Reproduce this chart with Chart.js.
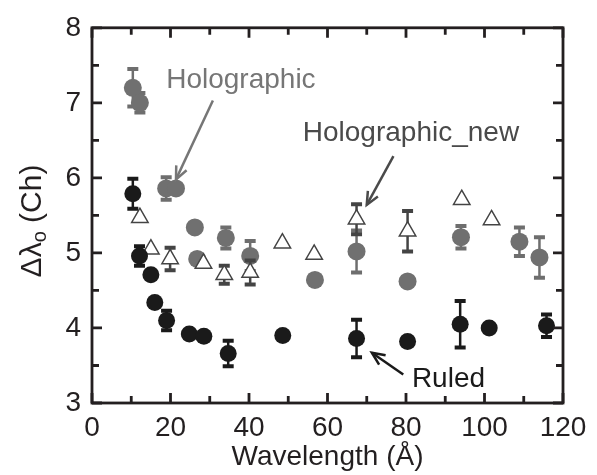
<!DOCTYPE html>
<html>
<head>
<meta charset="utf-8">
<script src="https://cdn.jsdelivr.net/npm/chart.js@4/dist/chart.umd.min.js"></script>
<style>
  html, body { margin: 0; padding: 0; background: #fff; }
</style>
</head>
<body>
<canvas id="chart" width="597" height="475"></canvas>
<script>
// Ruled grating (black dots)
const ruledX   = [10.4, 12.1, 15.0, 16.0, 19.0, 24.8, 28.5, 34.7, 48.6, 67.4, 80.4, 93.8, 101.2, 115.8];
const ruledY   = [5.79, 4.96, 4.71, 4.34, 4.10, 3.92, 3.89, 3.66, 3.90, 3.86, 3.82, 4.05, 4.00, 4.03];
const ruledErr = [0.20, 0.13, 0,    0,    0.13, 0,    0,    0.17, 0,    0.25, 0,    0.31, 0,    0.15];

// Holographic grating (grey dots)
const holoX   = [10.4, 12.2, 18.9, 21.4, 26.2, 26.8, 34.1, 40.3, 56.8, 67.4, 80.4, 94.0, 108.9, 114.0];
const holoY   = [7.20, 7.00, 5.86, 5.86, 5.34, 4.92, 5.20, 4.96, 4.64, 5.02, 4.62, 5.21, 5.15, 4.94];
const holoErr = [0.25, 0.13, 0.15, 0,    0,    0,    0.14, 0.20, 0,    0.28, 0,    0.15, 0.19, 0.27];

// Holographic_new (open triangles)
const newX   = [12.2, 15.0, 19.9, 28.4, 33.7, 40.3, 48.5, 56.6, 67.4, 80.4, 94.2, 101.8];
const newY   = [5.47, 5.05, 4.92, 4.86, 4.71, 4.74, 5.13, 4.98, 5.45, 5.29, 5.71, 5.44];
const newErr = [0,    0,    0.15, 0,    0.12, 0.16, 0,    0,    0.20, 0.27, 0,    0];

const xTicks = [0, 20, 40, 60, 80, 100, 120];
const yTicks = [3, 4, 5, 6, 7, 8];

const FONT = "'Liberation Sans', Arial, Helvetica, sans-serif";
const INK = '#231f20';

const pts = (xs, ys) => xs.map((x, i) => ({ x: x, y: ys[i] }));

// vertical error bars, drawn under each dataset's markers
const errorBars = {
  id: 'errorBars',
  beforeDatasetDraw(chart, args) {
    const ds = chart.data.datasets[args.index];
    if (!ds.errors) return;
    const ctx = chart.ctx, xs = chart.scales.x, ys = chart.scales.y;
    ctx.save();
    ctx.strokeStyle = ds.errorColor;
    ds.data.forEach(function(p, i) {
      const e = ds.errors[i];
      if (!e) return;
      const px = xs.getPixelForValue(p.x);
      const top = ys.getPixelForValue(p.y + e), bot = ys.getPixelForValue(p.y - e);
      ctx.lineWidth = 2.5;
      ctx.beginPath(); ctx.moveTo(px, top); ctx.lineTo(px, bot); ctx.stroke();
      ctx.lineWidth = 4;
      ctx.beginPath();
      ctx.moveTo(px - 5.5, top); ctx.lineTo(px + 5.5, top);
      ctx.moveTo(px - 5.5, bot); ctx.lineTo(px + 5.5, bot);
      ctx.stroke();
    });
    ctx.restore();
  }
};

// annotations in data units: text + arrow
const notes = [
  { text: 'Holographic',     x: 18.9, y: 7.30, color: '#767676', from: [30.8, 7.03], to: [21.4, 5.98] },
  { text: 'Holographic_new', x: 53.7, y: 6.59, color: '#4a4a4a', from: [76.8, 6.29], to: [70.0, 5.64] },
  { text: 'Ruled',           x: 81.5, y: 3.32, color: '#1a1a1a', from: [79.3, 3.38], to: [71.3, 3.67] }
];

const frame = {
  id: 'frame',
  afterDraw(chart) {
    const ctx = chart.ctx, xs = chart.scales.x, ys = chart.scales.y;
    const a = chart.chartArea;
    ctx.save();
    ctx.strokeStyle = INK;
    ctx.lineWidth = 2.8;
    ctx.strokeRect(a.left, a.top, a.right - a.left, a.bottom - a.top);
    // inward ticks on all sides
    for (let v = 0; v <= 120; v += 10) {
      const px = xs.getPixelForValue(v), len = v % 20 === 0 ? 10 : 7;
      ctx.beginPath();
      ctx.moveTo(px, a.bottom); ctx.lineTo(px, a.bottom - len);
      ctx.moveTo(px, a.top); ctx.lineTo(px, a.top + len);
      ctx.stroke();
    }
    for (let v = 3; v <= 8.001; v += 0.5) {
      const py = ys.getPixelForValue(v), len = Math.abs(v - Math.round(v)) < 0.01 ? 10 : 7;
      ctx.beginPath();
      ctx.moveTo(a.left, py); ctx.lineTo(a.left + len, py);
      ctx.moveTo(a.right, py); ctx.lineTo(a.right - len, py);
      ctx.stroke();
    }

    // y axis title with subscript
    ctx.fillStyle = INK;
    ctx.translate(30, 221);
    ctx.rotate(-Math.PI / 2);
    ctx.textBaseline = 'alphabetic';
    ctx.font = '30px ' + FONT;
    const w1 = ctx.measureText('\u0394\u03bb').width;
    const w3 = ctx.measureText(' (Ch)').width;
    ctx.font = '20px ' + FONT;
    const w2 = ctx.measureText('o').width;
    let sx = -(w1 + w2 + w3) / 2;
    ctx.font = '30px ' + FONT;
    ctx.fillText('\u0394\u03bb', sx, 11);
    ctx.font = '20px ' + FONT;
    ctx.fillText('o', sx + w1, 16);
    ctx.font = '30px ' + FONT;
    ctx.fillText(' (Ch)', sx + w1 + w2, 11);
    ctx.restore();

    // annotations
    ctx.save();
    notes.forEach(function(n) {
      ctx.font = '28px ' + FONT;
      ctx.fillStyle = n.color;
      ctx.textBaseline = 'middle';
      ctx.fillText(n.text, xs.getPixelForValue(n.x), ys.getPixelForValue(n.y));
      const x0 = xs.getPixelForValue(n.from[0]), y0 = ys.getPixelForValue(n.from[1]);
      const x1 = xs.getPixelForValue(n.to[0]), y1 = ys.getPixelForValue(n.to[1]);
      const ang = Math.atan2(y1 - y0, x1 - x0);
      ctx.strokeStyle = n.color;
      ctx.lineWidth = 2.5;
      ctx.lineCap = 'butt';
      ctx.beginPath(); ctx.moveTo(x0, y0); ctx.lineTo(x1, y1); ctx.stroke();
      ctx.beginPath();
      ctx.moveTo(x1 - 14 * Math.cos(ang - 0.42), y1 - 14 * Math.sin(ang - 0.42));
      ctx.lineTo(x1, y1);
      ctx.lineTo(x1 - 14 * Math.cos(ang + 0.42), y1 - 14 * Math.sin(ang + 0.42));
      ctx.stroke();
    });
    ctx.restore();
  }
};

new Chart(document.getElementById('chart').getContext('2d'), {
  type: 'scatter',
  data: {
    datasets: [
      { label: 'Ruled', data: pts(ruledX, ruledY), errors: ruledErr, errorColor: '#1a1a1a',
        pointStyle: 'circle', pointRadius: 8.5, backgroundColor: '#1a1a1a', borderColor: '#1a1a1a', borderWidth: 0 },
      { label: 'Holographic_new', data: pts(newX, newY), errors: newErr, errorColor: '#444',
        pointStyle: 'triangle', pointRadius: 9.5, backgroundColor: '#fff', borderColor: '#444', borderWidth: 1.5 },
      { label: 'Holographic', data: pts(holoX, holoY), errors: holoErr, errorColor: '#6e6e6e',
        pointStyle: 'circle', pointRadius: 9, backgroundColor: '#707070', borderColor: '#707070', borderWidth: 0 }
    ]
  },
  options: {
    responsive: false,
    devicePixelRatio: 1,
    animation: false,
    layout: { padding: { left: 0, right: 34, top: 26, bottom: 0 } },
    plugins: { legend: { display: false }, tooltip: { enabled: false } },
    scales: {
      x: {
        type: 'linear', min: 0, max: 120,
        afterFit: s => { s.height = 72; },
        afterBuildTicks: s => { s.ticks = xTicks.map(v => ({ value: v })); },
        grid: { display: false, drawTicks: false },
        border: { display: false },
        ticks: { color: INK, font: { family: FONT, size: 28 }, padding: 8, maxRotation: 0 },
        title: { display: true, text: 'Wavelength (\u00c5)', color: INK, font: { family: FONT, size: 28 }, padding: { top: 0, bottom: 1 } }
      },
      y: {
        type: 'linear', min: 3, max: 8,
        afterFit: s => { s.width = 92; },
        afterBuildTicks: s => { s.ticks = yTicks.map(v => ({ value: v })); },
        grid: { display: false, drawTicks: false },
        border: { display: false },
        ticks: { color: INK, font: { family: FONT, size: 28 }, padding: 11 }
      }
    }
  },
  plugins: [errorBars, frame]
});
</script>
</body>
</html>
